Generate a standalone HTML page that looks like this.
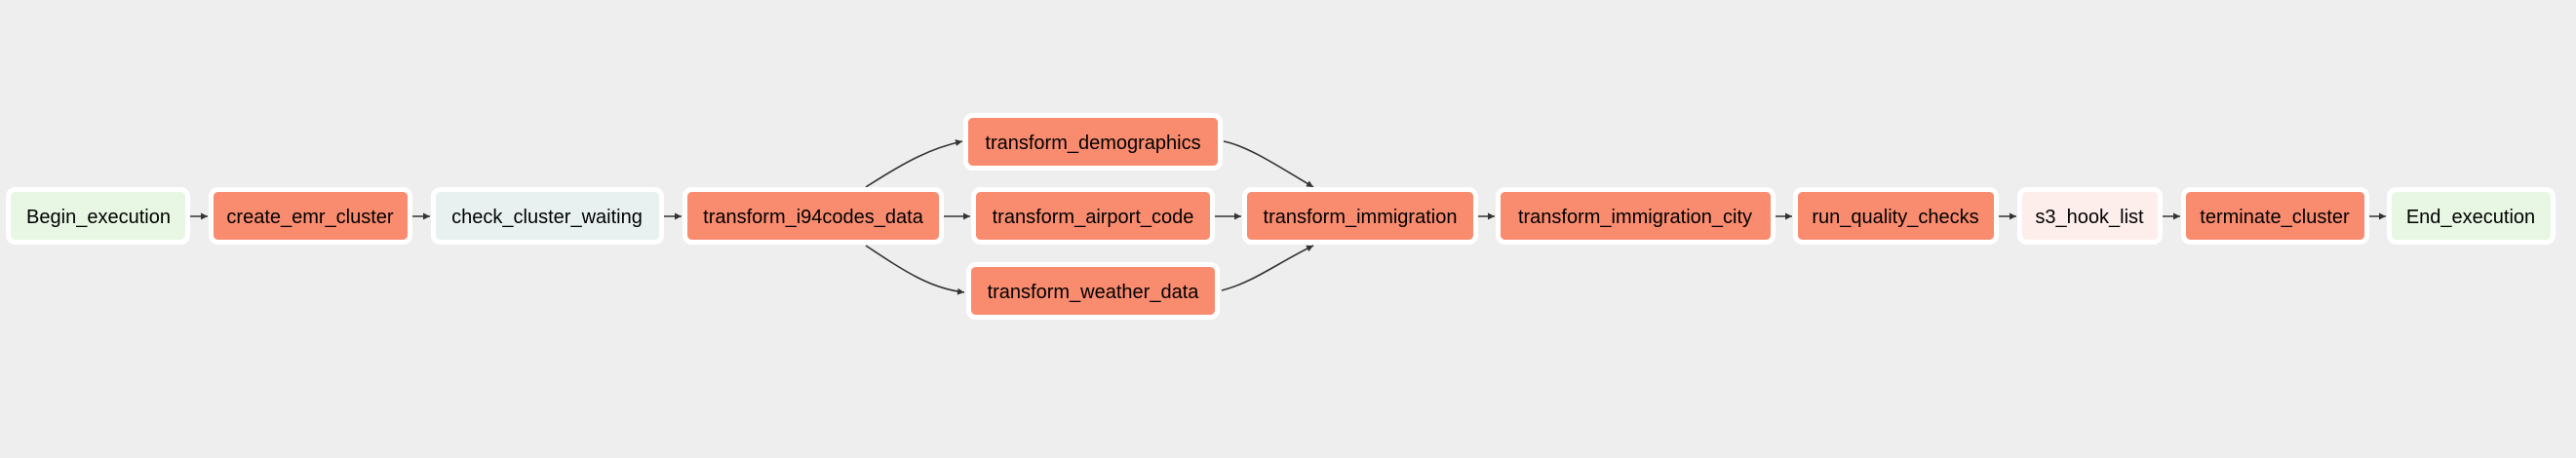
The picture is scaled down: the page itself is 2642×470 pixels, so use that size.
<!DOCTYPE html>
<html><head><meta charset="utf-8"><style>
html,body{margin:0;padding:0;background:#eeeeee;}
svg{display:block;}
text{font-family:"Liberation Sans",Arial,sans-serif;font-size:20px;fill:#000;}
</style></head><body>
<svg width="2642" height="470" viewBox="0 0 2642 470" xmlns="http://www.w3.org/2000/svg">
<defs>
<marker id="a" markerWidth="8" markerHeight="8" refX="7" refY="4" orient="auto" markerUnits="userSpaceOnUse">
<path d="M0,0.5 L7,4 L0,7.5 z" fill="#333"/>
</marker>
</defs>
<g fill="none" stroke="#333" stroke-width="1.6" marker-end="url(#a)">
<line x1="195" y1="222" x2="213" y2="222"/>
<line x1="423" y1="222" x2="441" y2="222"/>
<line x1="681" y1="222" x2="699" y2="222"/>
<line x1="968" y1="222" x2="995" y2="222"/>
<line x1="1246" y1="222" x2="1273" y2="222"/>
<line x1="1516" y1="222" x2="1533" y2="222"/>
<line x1="1821" y1="222" x2="1838" y2="222"/>
<line x1="2050" y1="222" x2="2068" y2="222"/>
<line x1="2218" y1="222" x2="2236" y2="222"/>
<line x1="2430" y1="222" x2="2447" y2="222"/>
<path d="M888,192 C930,165 955,152 987,145"/>
<path d="M888,252 C930,280 955,296 989,300"/>
<path d="M1255,145 C1280,150 1310,170 1347,192"/>
<path d="M1253,298 C1285,290 1310,270 1347,252"/>
</g>
<g stroke="#fff" stroke-width="5">
<rect x="8.5" y="194.5" width="184" height="54" rx="7" fill="#e8f7e4"/>
<rect x="216.5" y="194.5" width="204" height="54" rx="7" fill="#f98b6f"/>
<rect x="444.5" y="194.5" width="234" height="54" rx="7" fill="#e8f0f0"/>
<rect x="702.5" y="194.5" width="263" height="54" rx="7" fill="#f98b6f"/>
<rect x="990.5" y="118.5" width="261" height="54" rx="7" fill="#f98b6f"/>
<rect x="998.5" y="194.5" width="245" height="54" rx="7" fill="#f98b6f"/>
<rect x="993.5" y="271.5" width="255" height="54" rx="7" fill="#f98b6f"/>
<rect x="1276.5" y="194.5" width="237" height="54" rx="7" fill="#f98b6f"/>
<rect x="1536.5" y="194.5" width="282" height="54" rx="7" fill="#f98b6f"/>
<rect x="1841.5" y="194.5" width="206" height="54" rx="7" fill="#f98b6f"/>
<rect x="2071.5" y="194.5" width="144" height="54" rx="7" fill="#fdeeeb"/>
<rect x="2239.5" y="194.5" width="188" height="54" rx="7" fill="#f98b6f"/>
<rect x="2450.5" y="194.5" width="168" height="54" rx="7" fill="#e8f7e4"/>
</g>
<g text-anchor="middle">
<text x="101" y="229">Begin_execution</text>
<text x="318" y="229">create_emr_cluster</text>
<text x="561" y="229">check_cluster_waiting</text>
<text x="834" y="229">transform_i94codes_data</text>
<text x="1121" y="153">transform_demographics</text>
<text x="1121" y="229">transform_airport_code</text>
<text x="1121" y="306">transform_weather_data</text>
<text x="1395" y="229">transform_immigration</text>
<text x="1677" y="229">transform_immigration_city</text>
<text x="1944" y="229">run_quality_checks</text>
<text x="2143" y="229">s3_hook_list</text>
<text x="2333" y="229">terminate_cluster</text>
<text x="2534" y="229">End_execution</text>
</g>
</svg>
</body></html>
